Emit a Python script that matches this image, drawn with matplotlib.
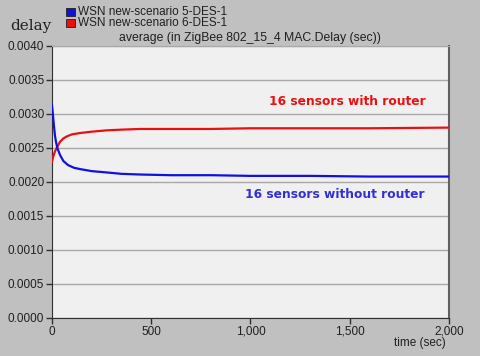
import matplotlib

matplotlib.use("Agg")
import matplotlib.pyplot as plt
from matplotlib.patches import Rectangle

# time (sec) and average MAC delay (sec)
time_blue = [0, 5, 10, 15, 20, 27, 40, 57, 80, 110, 141, 200, 277, 350, 444, 600, 800, 1000, 1300, 1600, 2000]
delay_blue = [0.00313, 0.00298, 0.00282, 0.00268, 0.00259, 0.00250, 0.00240, 0.00231, 0.00225, 0.00221, 0.00219,
              0.00216, 0.00214, 0.00212, 0.00211, 0.00210, 0.00210, 0.00209, 0.00209, 0.00208, 0.00208]

time_red = [0, 5, 10, 15, 20, 27, 40, 57, 74, 100, 141, 200, 277, 350, 444, 600, 800, 1000, 1300, 1600, 2000]
delay_red = [0.00230, 0.00236, 0.00241, 0.00245, 0.00248, 0.00252, 0.00259, 0.00264, 0.00267, 0.00270, 0.00272,
             0.00274, 0.00276, 0.00277, 0.00278, 0.00278, 0.00278, 0.00279, 0.00279, 0.00279, 0.00280]

y_ticks = [0.0000, 0.0005, 0.0010, 0.0015, 0.0020, 0.0025, 0.0030, 0.0035, 0.0040]
x_ticks = [0, 500, 1000, 1500, 2000]
x_labels = ["0", "500", "1,000", "1,500", "2,000"]

legend_names = ["WSN new-scenario 5-DES-1", "WSN new-scenario 6-DES-1"]
note_red = "16 sensors with router"
note_blue = "16 sensors without router"

BG = "#c0c0c0"
PLOT_BG = "#f0f0f0"
BLUE = "#1010e0"
RED = "#e81010"
FONT = "Liberation Sans"

W, H = 480, 356
fig = plt.figure(figsize=(W / 100, H / 100), dpi=100, facecolor=BG)
ax = fig.add_axes([52 / W, 1 - 318 / H, (449 - 52) / W, (318 - 46) / H], facecolor=PLOT_BG)

ax.plot(time_red, delay_red, color=RED, linewidth=1.6, zorder=3)
ax.plot(time_blue, delay_blue, color=BLUE, linewidth=1.6, zorder=4)

ax.set_xlim(0, 2000)
ax.set_ylim(0, 0.004)
ax.set_yticks(y_ticks)
ax.set_yticklabels([f"{v:.4f}" for v in y_ticks], fontfamily=FONT, fontsize=8.5, color="#202020")
ax.set_xticks(x_ticks)
ax.set_xticklabels(x_labels, fontfamily=FONT, fontsize=8.5, color="#202020")
ax.yaxis.grid(True, color="#a8a8a8", linewidth=1.0)
ax.set_axisbelow(True)
ax.tick_params(axis="both", length=4, width=1, color="#303030", pad=1.5)

ax.spines["left"].set_color("#303030")
ax.spines["bottom"].set_color("#303030")
ax.spines["right"].set_color("#606060")
ax.spines["right"].set_linewidth(1.5)
ax.spines["top"].set_color("#a8a8a8")

ax.text(1486, 0.00319, note_red, ha="center", va="center", color=RED,
        fontsize=8.8, fontweight="bold", fontfamily="DejaVu Sans")
ax.text(1426, 0.00182, note_blue, ha="center", va="center", color="#3030d8",
        fontsize=8.8, fontweight="bold", fontfamily="DejaVu Sans")

# y label, title, x label and legend sit in figure pixels
fig.text(10 / W, 1 - 26 / H, "delay", fontfamily="DejaVu Serif", fontsize=11, va="center", ha="left", color="#202020")
fig.text(250 / W, 1 - 38 / H, "average (in ZigBee 802_15_4 MAC.Delay (sec))", fontfamily=FONT,
         fontsize=8.8, ha="center", va="center", color="#202020")
fig.text(446 / W, 1 - 343 / H, "time (sec)", fontfamily=FONT, fontsize=8.5, ha="right", va="center", color="#202020")

for i, (name, col) in enumerate(zip(legend_names, [BLUE, RED])):
    yc = 12 + i * 11
    fig.patches.append(Rectangle((66 / W, 1 - (yc + 4) / H), 9 / W, 8 / H, transform=fig.transFigure,
                                 facecolor=col, edgecolor="#202020", linewidth=0.6))
    fig.text(78 / W, 1 - yc / H, name, fontfamily=FONT, fontsize=8.5, va="center", ha="left", color="#202020")

fig.savefig("out.png", dpi=100, facecolor=BG)
